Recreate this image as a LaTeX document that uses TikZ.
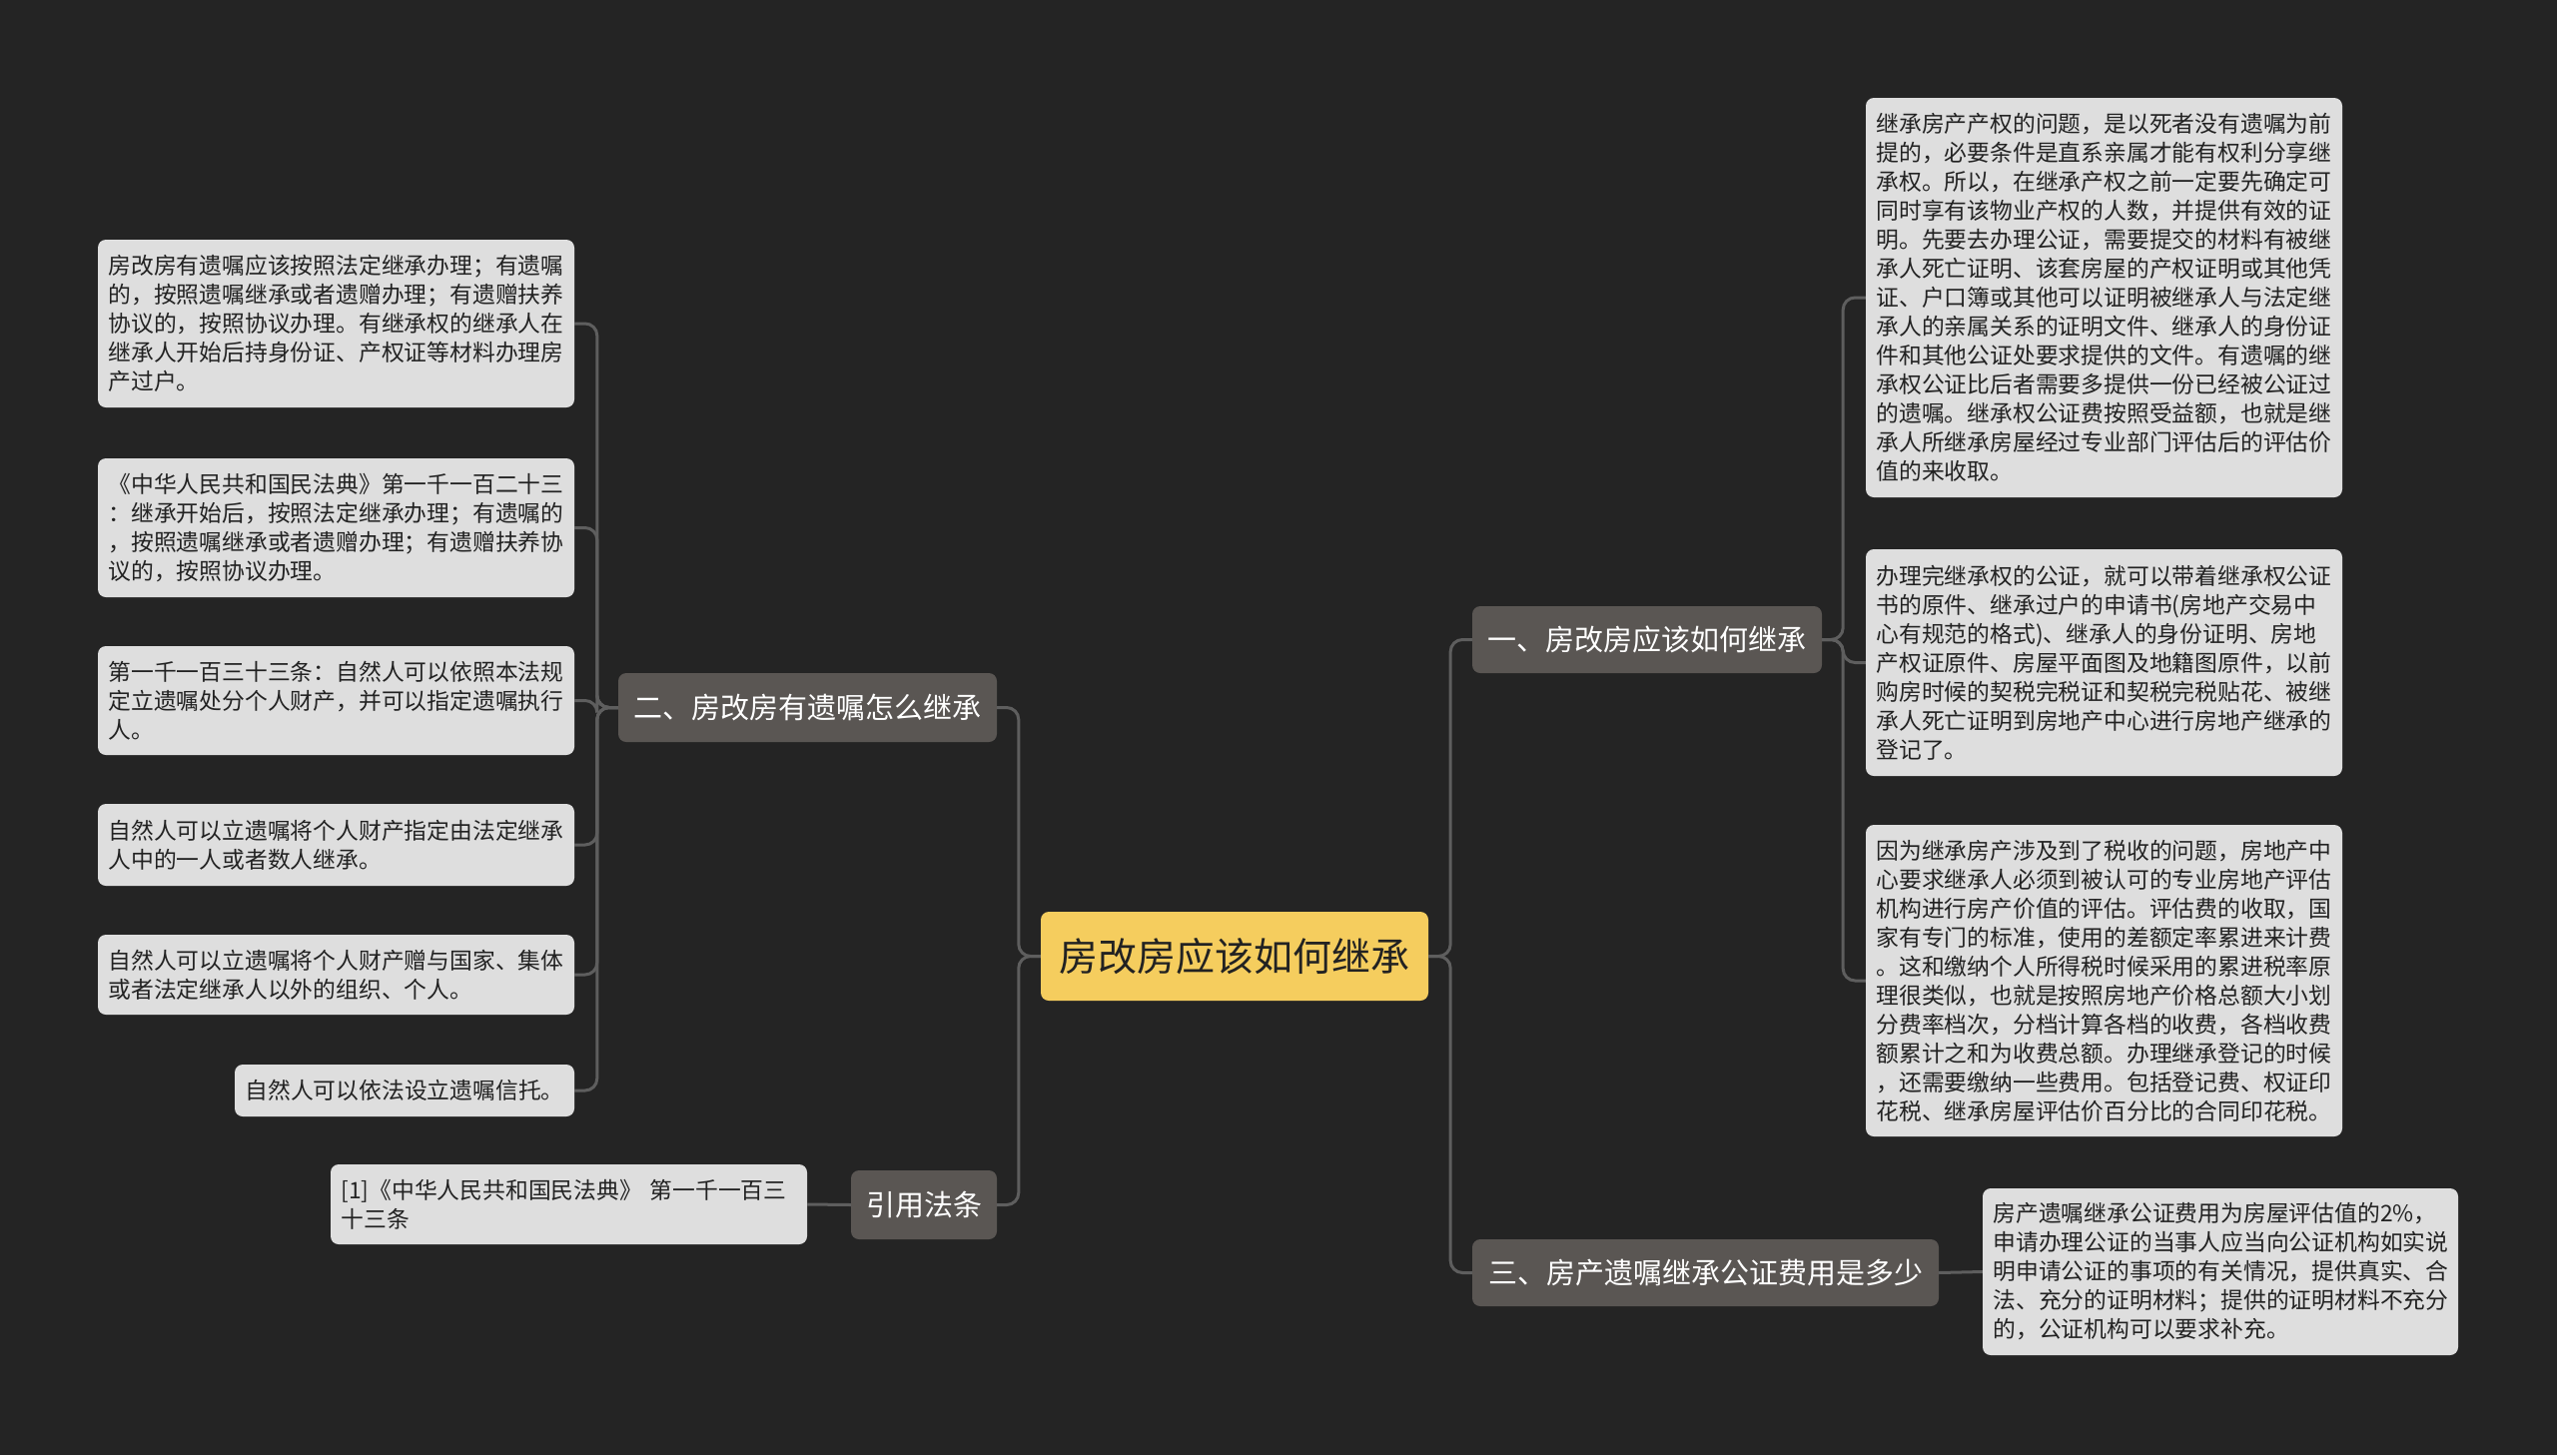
\documentclass[tikz,border=0pt]{standalone}
\usepackage{fontspec}
\setmainfont{Noto Sans CJK SC}
\definecolor{bgc}{HTML}{242424}
\definecolor{rootc}{HTML}{F5CD5E}
\definecolor{brc}{HTML}{5A5653}
\definecolor{leafc}{HTML}{DEDEDE}
\definecolor{linec}{HTML}{5E5E5E}
\definecolor{txtc}{HTML}{222222}
\tikzset{
  rootbox/.style={fill=rootc, rounded corners=8pt, text=txtc, font=\fontsize{39}{46}\selectfont, inner sep=0pt},
  brbox/.style={fill=brc, rounded corners=8pt, text=white, font=\fontsize{29}{34}\selectfont, inner sep=0pt},
  leafbox/.style={fill=leafc, rounded corners=8pt, text=txtc, font=\fontsize{22.8}{29}\selectfont, align=left, inner xsep=10.5pt, inner ysep=2pt, text width=456pt},
  conn/.style={draw=linec, line width=3pt, rounded corners=12pt}
}
\begin{document}
\begin{tikzpicture}[x=1pt,y=-1pt]
\fill[bgc] (0,0) rectangle (2560,1457);
\useasboundingbox (0,0) rectangle (2560,1457);

% root and branches
\node[rootbox, minimum width=388pt, minimum height=89pt] (root) at (1236,957.5) {房改房应该如何继承};
\node[brbox, minimum width=379pt, minimum height=69pt] (b2) at (808.5,708.5) {二、房改房有遗嘱怎么继承};
\node[brbox, minimum width=146pt, minimum height=69pt] (bc) at (925,1206.5) {引用法条};
\node[brbox, minimum width=350pt, minimum height=67pt] (b1) at (1649,640.5) {一、房改房应该如何继承};
\node[brbox, minimum width=467pt, minimum height=67pt] (b3) at (1707.5,1274.5) {三、房产遗嘱继承公证费用是多少};

% left leaves
\node[leafbox, minimum height=168pt] (L1) at (336.5,324) {房改房有遗嘱应该按照法定继承办理；有遗嘱\\的，按照遗嘱继承或者遗赠办理；有遗赠扶养\\协议的，按照协议办理。有继承权的继承人在\\继承人开始后持身份证、产权证等材料办理房\\产过户。};
\node[leafbox, minimum height=139pt] (L2) at (336.5,528.5) {《中华人民共和国民法典》第一千一百二十三\\：继承开始后，按照法定继承办理；有遗嘱的\\，按照遗嘱继承或者遗赠办理；有遗赠扶养协\\议的，按照协议办理。};
\node[leafbox, minimum height=109pt] (L3) at (336.5,701.5) {第一千一百三十三条：自然人可以依照本法规\\定立遗嘱处分个人财产，并可以指定遗嘱执行\\人。};
\node[leafbox, minimum height=82pt] (L4) at (336.5,846) {自然人可以立遗嘱将个人财产指定由法定继承\\人中的一人或者数人继承。};
\node[leafbox, minimum height=80pt] (L5) at (336.5,976) {自然人可以立遗嘱将个人财产赠与国家、集体\\或者法定继承人以外的组织、个人。};
\node[leafbox, text width=319pt, minimum height=52pt] (L6) at (405,1092) {自然人可以依法设立遗嘱信托。};
\node[leafbox, minimum height=80pt] (cite) at (569.5,1206) {[1]《中华人民共和国民法典》 第一千一百三\\十三条};

% right leaves
\node[leafbox, minimum height=400pt] (R1) at (2106.5,298) {继承房产产权的问题，是以死者没有遗嘱为前\\提的，必要条件是直系亲属才能有权利分享继\\承权。所以，在继承产权之前一定要先确定可\\同时享有该物业产权的人数，并提供有效的证\\明。先要去办理公证，需要提交的材料有被继\\承人死亡证明、该套房屋的产权证明或其他凭\\证、户口簿或其他可以证明被继承人与法定继\\承人的亲属关系的证明文件、继承人的身份证\\件和其他公证处要求提供的文件。有遗嘱的继\\承权公证比后者需要多提供一份已经被公证过\\的遗嘱。继承权公证费按照受益额，也就是继\\承人所继承房屋经过专业部门评估后的评估价\\值的来收取。};
\node[leafbox, minimum height=227pt] (R2) at (2106.5,663.5) {办理完继承权的公证，就可以带着继承权公证\\书的原件、继承过户的申请书(房地产交易中\\心有规范的格式)、继承人的身份证明、房地\\产权证原件、房屋平面图及地籍图原件，以前\\购房时候的契税完税证和契税完税贴花、被继\\承人死亡证明到房地产中心进行房地产继承的\\登记了。};
\node[leafbox, minimum height=312pt] (R3) at (2106.5,982) {因为继承房产涉及到了税收的问题，房地产中\\心要求继承人必须到被认可的专业房地产评估\\机构进行房产价值的评估。评估费的收取，国\\家有专门的标准，使用的差额定率累进来计费\\。这和缴纳个人所得税时候采用的累进税率原\\理很类似，也就是按照房地产价格总额大小划\\分费率档次，分档计算各档的收费，各档收费\\额累计之和为收费总额。办理继承登记的时候\\，还需要缴纳一些费用。包括登记费、权证印\\花税、继承房屋评估价百分比的合同印花税。};
\node[leafbox, text width=455pt, minimum height=167pt] (R4) at (2223,1273.5) {房产遗嘱继承公证费用为房屋评估值的2\%，\\申请办理公证的当事人应当向公证机构如实说\\明申请公证的事项的有关情况，提供真实、合\\法、充分的证明材料；提供的证明材料不充分\\的，公证机构可以要求补充。};

% connectors
\draw[conn] (root.west) -- ++(-22,0) |- (b2.east);
\draw[conn] (root.west) -- ++(-22,0) |- (bc.east);
\draw[conn] (root.east) -- ++(22,0) |- (b1.west);
\draw[conn] (root.east) -- ++(22,0) |- (b3.west);
\foreach \n in {L1,L2,L3,L4,L5,L6}
  \draw[conn] (b2.west) -- ++(-21,0) |- (\n.east);
\draw[conn] (bc.west) -- (cite.east);
\foreach \n in {R1,R2,R3}
  \draw[conn] (b1.east) -- ++(21,0) |- (\n.west);
\draw[conn] (b3.west -| b3.east) -- (R4.west);
\end{tikzpicture}
\end{document}
